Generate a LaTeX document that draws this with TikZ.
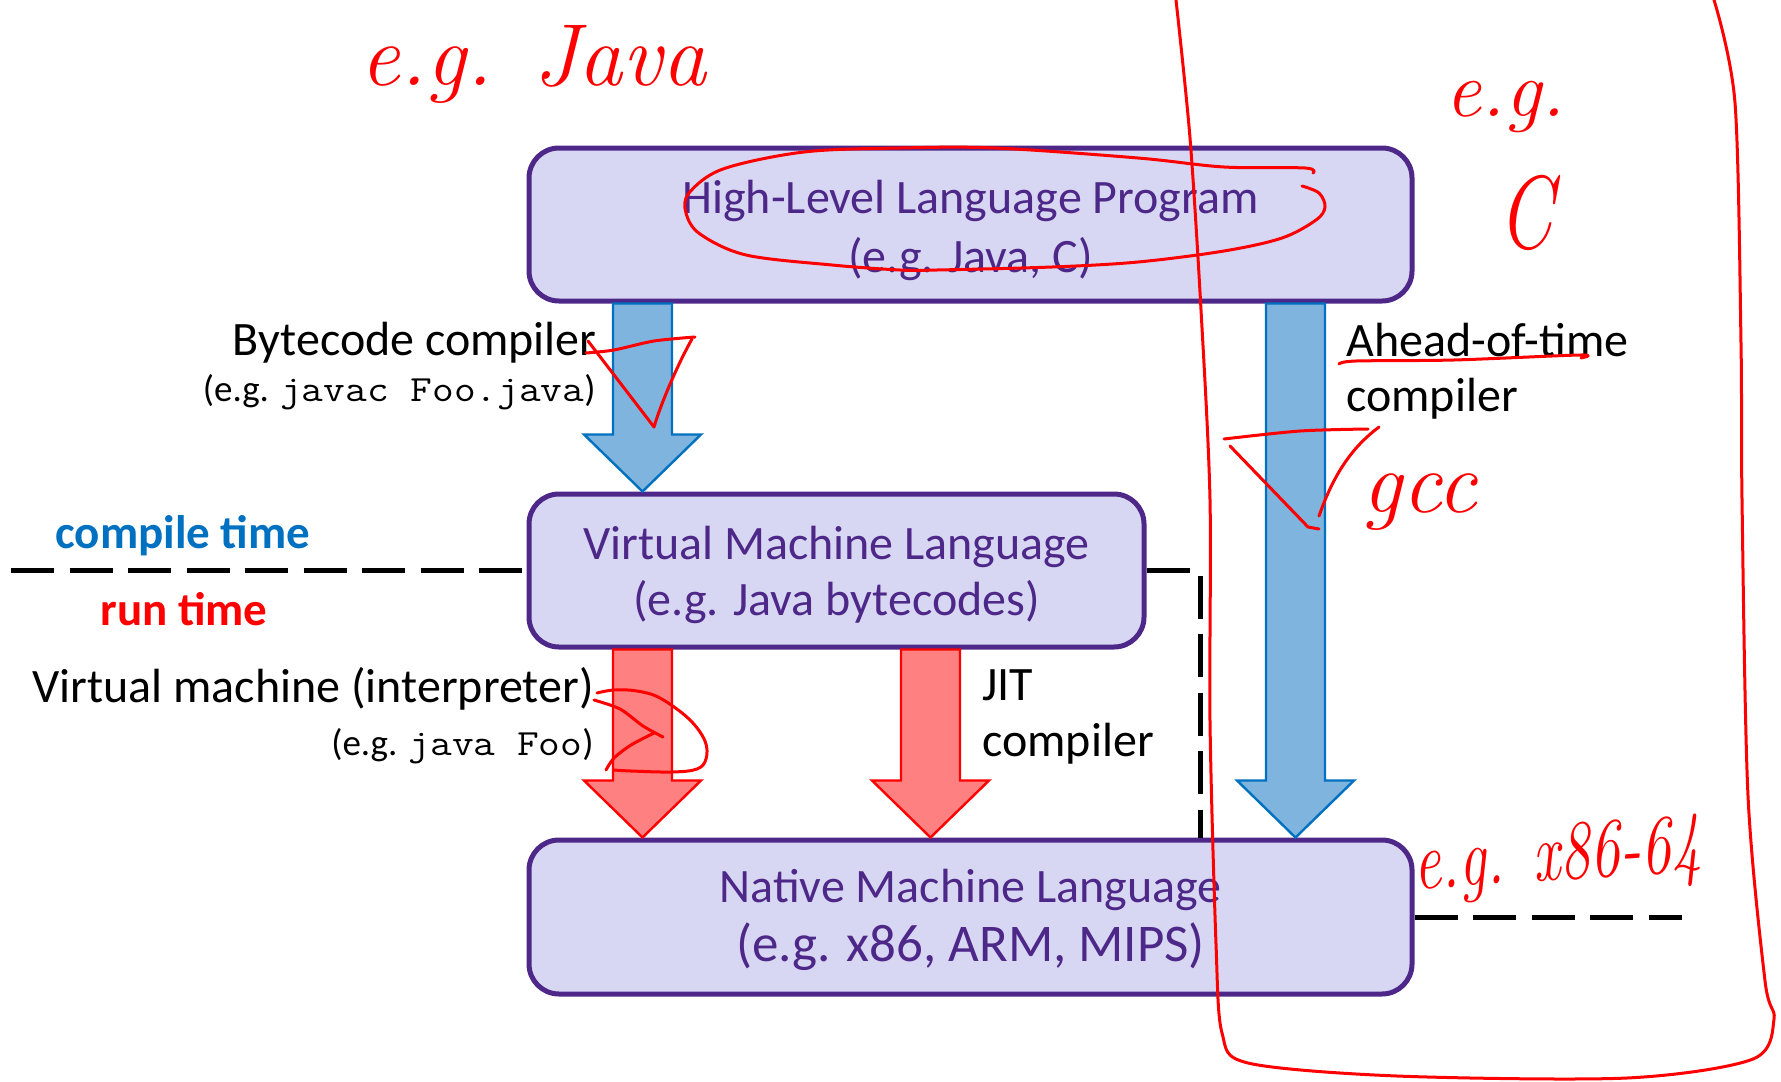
\documentclass[tikz,border=0pt]{standalone}
\usepackage{fontspec}
\setmainfont{Carlito}
\usetikzlibrary{calc}

\definecolor{boxfill}{RGB}{215,215,243}
\definecolor{boxline}{RGB}{78,40,136}
\definecolor{ctblue}{RGB}{0,112,192}
\definecolor{arrblue}{RGB}{127,180,222}
\definecolor{arrred}{RGB}{255,128,128}
\definecolor{pen}{RGB}{255,0,0}

\newcommand\handfont{\fontfamily{lmr}\fontshape{it}\selectfont}
% typewriter text, widened to Courier proportions
\newcommand\code[1]{{\fontfamily{lmtt}\selectfont\scalebox{1.14}[1]{#1}}}
% lower a line inside a box without changing its size
\newcommand\dropby[2]{\raisebox{-#1}[\height][\depth]{#2}}

% block arrow from the point #2 down to the point #3
\newcommand\blockarrow[3]{%
  \draw[#1] let \p1=(#2), \p2=(#3) in
    (\x1-14.75pt,\y1) -- (\x1-14.75pt,\y2+28.5pt) -- (\x1-29.25pt,\y2+28.5pt)
    -- (\x1,\y2) -- (\x1+29.25pt,\y2+28.5pt) -- (\x1+14.75pt,\y2+28.5pt)
    -- (\x1+14.75pt,\y1) -- cycle;}

\tikzset{
  langbox/.style={draw=boxline, fill=boxfill, line width=2.5pt,
    rounded corners=15pt, inner sep=0pt, align=center, text=boxline,
    font=\fontsize{24}{29.5}\selectfont},
  lbl/.style={inner sep=0pt, font=\fontsize{24}{28}\selectfont},
  sublbl/.style={inner sep=0pt, font=\fontsize{18.5}{22}\selectfont},
  phase/.style={inner sep=0pt, font=\fontsize{23.5}{28}\selectfont\bfseries},
  bluearrow/.style={fill=arrblue, draw=ctblue, line width=1.2pt, line join=miter},
  redarrow/.style={fill=arrred, draw=pen, line width=1.2pt, line join=miter},
  border/.style={draw=black, line width=2.5pt, dash pattern=on 21.5pt off 7.75pt},
  pen/.style={draw=pen, line width=1.5pt, line cap=round, line join=round},
  hand/.style={inner sep=0pt, text=pen},
}

\begin{document}
\begin{tikzpicture}[x=0.5pt, y=-0.5pt]
\useasboundingbox (0,0) rectangle (1781,1081);

% language levels
\node[langbox, minimum width=441.5pt, minimum height=76.5pt] (hll) at (970.5,224.5)
  {\dropby{3pt}{High-Level Language Program}\\\dropby{3pt}{(e.g. Java, C)}};
\node[langbox, minimum width=307.5pt, minimum height=76.5pt] (vml) at (836.5,570.5)
  {\dropby{3pt}{Virtual Machine Language}\\\dropby{1.5pt}{(e.g. Java bytecodes)}};
\node[langbox, minimum width=441.5pt, minimum height=77pt] (nml) at (970.5,917)
  {\dropby{1.5pt}{Native Machine Language}\\\dropby{1.5pt}{\fontsize{26.5}{29.5}\selectfont(e.g. x86, ARM, MIPS)}};

% compile-time / run-time boundary
\coordinate (bl) at (11,570.5);
\coordinate (bc) at (1200,570.5);
\coordinate (br) at (1682,917);
\draw[border] (bl) -- (vml.west);
\draw[border] (vml.east) -- (bc) -- (bc |- nml.north);
\draw[border] (nml.east) -- (br);

% translation arrows
\coordinate (bcS) at ($(hll.south west)+(116,0)$);
\coordinate (bcE) at ($(vml.north west)+(116,0)$);
\coordinate (aotS) at ($(hll.south west)+(769,0)$);
\coordinate (aotE) at ($(nml.north west)+(769,0)$);
\coordinate (intS) at ($(vml.south west)+(116,0)$);
\coordinate (intE) at ($(nml.north west)+(116,0)$);
\coordinate (jitS) at ($(vml.south west)+(404,0)$);
\coordinate (jitE) at ($(nml.north west)+(404,0)$);
\blockarrow{bluearrow}{bcS}{bcE}
\blockarrow{bluearrow}{aotS}{aotE}
\blockarrow{redarrow}{intS}{intE}
\blockarrow{redarrow}{jitS}{jitE}

% labels
\node[lbl, anchor=base east] (bclab) at (597,355) {Bytecode compiler};
\node[sublbl, anchor=base east] (bcsub) at (596,401) {(e.g. \code{javac Foo.java})};
\node[lbl, anchor=base east] (intlab) at (594,702) {Virtual machine (interpreter)};
\node[sublbl, anchor=base east] (intsub) at (594,755) {(e.g. \code{java Foo})};
\node[lbl, anchor=base west] (jit1) at (982,700) {JIT};
\node[lbl, anchor=base west] (jit2) at (982,756) {compiler};
\node[lbl, anchor=base west] (aot1) at (1346,356) {Ahead-of-time};
\node[lbl, anchor=base west] (aot2) at (1346,411) {compiler};
\node[phase, anchor=base west, text=ctblue] (ct) at (55,548) {compile time};
\node[phase, anchor=base west, text=pen] (rt) at (100,625) {run time};

% pen annotations
\node[hand, anchor=base west, font=\handfont\fontsize{44}{44}\selectfont] (egjava) at (360,86) {e.g. Java};
\node[hand, anchor=base west, font=\handfont\fontsize{40}{40}\selectfont] (egc1) at (1445,117) {e.g.};
\node[hand, anchor=base west, font=\handfont\fontsize{52}{52}\selectfont] (egc2) at (1498,248) {\scalebox{0.75}[1]{C}};
\node[hand, anchor=base west, font=\handfont\fontsize{44}{44}\selectfont] (gcc) at (1362,512) {gcc};
\node[hand, anchor=base west, rotate=4, font=\handfont\fontsize{42}{42}\selectfont] (egx) at (1415,890) {\scalebox{0.72}[1]{e.g. x86-64}};

% circled source level
\draw[pen] plot[smooth, tension=0.55] coordinates {(1313,173) (1305,168) (1224,167) (1138,158)
  (995,148) (900,148) (804,152) (723,169) (689,193) (686,213) (700,234) (746,255) (832,265)
  (900,270) (937,270) (1052,267) (1138,262) (1224,251) (1282,238) (1316,220) (1325,207)
  (1319,193) (1302,186)};

% ticks on the compiler arrows
\draw[pen] plot[smooth] coordinates {(586,353) (614,350) (654,341) (695,337)};
\draw[pen] (588,341) -- (654,427) .. controls (662,400) and (680,360) .. (692,339);
\draw[pen] plot[smooth] coordinates {(1224,439) (1300,431) (1368,429)};
\draw[pen] (1230,446) -- (1308,527) -- (1319,529);
\draw[pen] (1319,516) .. controls (1335,470) and (1355,445) .. (1379,427);

% mark on the interpreter arrow
\draw[pen] plot[smooth, tension=0.6] coordinates {(597,693) (614,690) (637,691) (660,698)
  (689,719) (705,741) (706,759) (697,769) (672,772) (631,771) (614,770)};
\draw[pen] plot[smooth] coordinates {(594,700) (620,709) (643,726) (663,737)};
\draw[pen] plot[smooth] coordinates {(654,733) (631,745) (614,758) (606,770)};

% underline
\draw[pen] plot[smooth] coordinates {(1339,364) (1356,361) (1454,360) (1580,355) (1581,358)};

% native-code region
\draw[pen] plot[smooth, tension=0.5] coordinates {(1176,0) (1190,138) (1201,310) (1210,500)
  (1210,722) (1216,944) (1222,1033) (1248,1063) (1397,1076) (1627,1078) (1753,1059)
  (1774,1019) (1765,981) (1748,796) (1742,500) (1741,344) (1735,103) (1714,0)};
\end{tikzpicture}
\end{document}
